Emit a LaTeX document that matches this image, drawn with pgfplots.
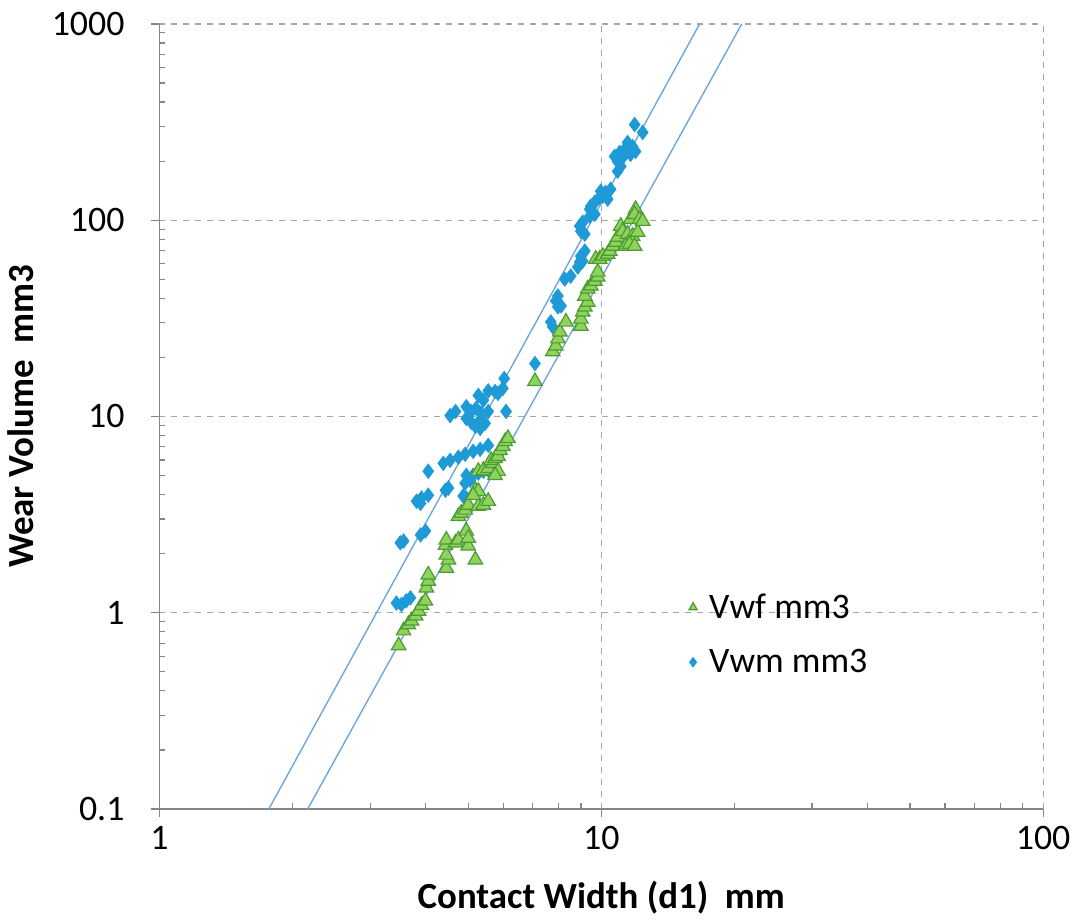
\documentclass[border=0pt]{standalone}
\usepackage{fontspec}
\setmainfont{Carlito}
\usepackage{pgfplots}
\pgfplotsset{compat=1.18}
\definecolor{vwmblue}{HTML}{1E9AD6}
\definecolor{vwffill}{HTML}{8ED45A}
\definecolor{vwfedge}{HTML}{4E9A34}
\definecolor{trend}{HTML}{6FA6DC}
\definecolor{axgray}{HTML}{868686}

\begin{document}
\begin{tikzpicture}
\begin{axis}[
  scale only axis, width=443.5pt, height=394pt,
  xmode=log, ymode=log,
  xmin=1, xmax=100, ymin=0.1, ymax=1000,
  xtick={1,10,100}, xticklabels={1,10,100},
  ytick={0.1,1,10,100,1000}, yticklabels={0.1,1,10,100,1000},
  minor xtick={2,3,4,5,6,7,8,9,20,30,40,50,60,70,80,90},
  minor ytick={0.2,0.3,0.4,0.5,0.6,0.7,0.8,0.9,2,3,4,5,6,7,8,9,20,30,40,50,60,70,80,90,200,300,400,500,600,700,800,900},
  axis x line*=bottom, axis y line*=left,
  axis line style={axgray, line width=0.8pt, -},
  tick align=inside, major tick length=-4pt, minor tick length=3pt,
  tick style={axgray, line width=0.6pt},
  xmajorgrids, ymajorgrids,
  major grid style={gray!70, dashed, line width=0.6pt},
  tick label style={font=\fontsize{18}{21}\selectfont, text=black},
  yticklabel style={xshift=-14pt},
  xticklabel style={yshift=-5pt},
  /pgf/number format/assume math mode=true,
  xlabel={\textbf{Contact Width (d1)\ \ mm}},
  ylabel={\textbf{Wear Volume\ \ mm3}},
  label style={font=\fontsize{18.5}{21}\selectfont},
  xlabel style={yshift=-9pt},
  ylabel style={yshift=2pt},
  legend style={at={(rel axis cs:0.592,0.285)}, anchor=north west, draw=none, fill=none,
    font=\fontsize{18}{21}\selectfont, row sep=10pt, column sep=4pt},
  legend image post style={mark size=2.4pt},
  legend cell align=left,
  reverse legend,
]
\coordinate (O) at (rel axis cs:0,0);
% trend lines
\addplot[trend, line width=0.7pt, forget plot] coordinates {(1.769,0.1) (16.7,1000)};
\addplot[trend, line width=0.7pt, forget plot] coordinates {(2.166,0.1) (20.8,1000)};
% Vwm
\addplot[only marks, mark=diamond*, mark size=3.6pt, color=vwmblue, mark options={fill=vwmblue, draw=vwmblue}] coordinates {
(3.44,1.12) (3.53,1.10) (3.62,1.15) (3.70,1.19)
(3.51,2.27) (3.57,2.32) (3.90,2.49) (4.00,2.61)
(3.82,3.70) (3.90,3.61) (3.92,3.84) (4.06,3.97)
(4.44,4.21) (4.51,4.32) (4.87,3.93) (4.95,3.84)
(4.06,5.26) (5.05,4.73) (4.92,4.57) (4.95,5.01)
(5.13,5.01) (5.27,5.14) (5.41,5.26) (5.55,5.32) (5.69,5.45)
(4.39,5.77) (4.55,5.98) (4.75,6.20) (4.92,6.42) (5.13,6.64) (5.32,6.80) (5.55,7.12)
(6.15,7.55)
(4.55,10.1) (4.68,10.6) (4.95,11.2) (5.08,10.6) (5.21,11.0) (5.35,10.4) (5.55,10.6) (6.09,10.6)
(4.95,9.77) (5.08,9.33) (5.27,9.33) (5.46,9.22) (5.19,8.90) (5.32,8.69)
(5.27,12.8) (5.41,12.1) (5.55,13.5) (5.75,13.4) (5.99,13.9) (5.84,13.1)
(6.03,15.6) (7.08,18.6)
(7.69,30.3) (7.77,28.6) (7.98,41.1) (7.89,38.8) (7.98,36.2) (8.11,36.6)
(8.27,50.1) (8.53,51.9) (8.85,57.7) (8.94,61.2) (8.99,65.6) (9.18,69.6) (9.08,61.9)
(8.94,93.3) (9.08,97.7) (8.99,87.9) (9.18,84.9)
(9.42,104.7) (9.67,107.2) (9.42,113.7) (9.47,117.8) (9.67,123.4)
(9.92,130.9) (9.97,140.4) (10.08,132.5) (10.23,138.6) (10.50,143.6) (10.34,128)
(10.89,177.5) (11.07,188.1) (10.72,211.5) (11.01,221.5) (11.30,229.3) (11.47,248.7) (11.77,237.5)
(10.89,199) (11.18,208.8) (11.65,216.5) (11.96,224)
(11.90,307) (12.41,280)
};
\addlegendentry{Vwm mm3}
% Vwf
\addplot[only marks, mark=triangle*, mark size=4.2pt, mark options={fill=vwffill, draw=vwfedge, line width=0.6pt}] coordinates {
(3.48,0.68) (3.57,0.81) (3.66,0.87) (3.72,0.91) (3.80,0.965) (3.86,1.02) (3.92,1.09) (4.00,1.15)
(4.02,1.34) (4.06,1.45) (4.06,1.56)
(4.46,1.69) (4.51,1.86) (4.46,1.97) (4.44,2.21) (4.46,2.35) (4.68,2.27) (4.75,2.35)
(5.00,2.19) (5.19,1.86) (4.95,2.61) (5.00,2.40)
(4.75,3.10) (4.82,3.22) (4.92,3.34) (5.00,3.54) (5.27,3.49) (5.41,3.54) (5.55,3.70)
(5.19,4.21) (5.27,4.16) (5.13,3.97)
(5.27,5.26) (5.41,5.32) (5.55,5.45) (5.69,5.77) (5.63,5.98) (5.75,6.12) (5.84,6.27)
(5.84,5.26) (5.75,5.01)
(5.90,6.72) (5.99,7.04) (6.06,7.46) (6.15,7.73)
(7.08,15.1)
(7.77,21.4) (7.89,22.9) (7.98,24.9) (8.06,27.0) (8.32,30.3)
(8.99,28.9) (8.99,31.4) (9.08,34.1) (9.18,36.2) (9.32,38.3) (9.18,41.1)
(9.32,44.7) (9.47,46.3) (9.67,49.0) (9.82,51.4) (9.82,54.5)
(9.72,63.4) (9.92,63.4) (10.08,65.6) (10.34,67.2) (10.45,69.6) (10.62,73.8) (10.78,77.3) (10.89,82)
(11.07,93.3) (11.18,87.9) (11.47,84.9) (11.77,83) (12.09,86.9) (11.36,73.8) (11.59,75.5) (11.90,73.8)
(11.65,101) (11.96,113.7) (11.90,107.2) (12.21,101) (12.41,98.8)
};
\addlegendentry{Vwf mm3}
\end{axis}
\path (O) ++(-80pt,-54.5pt) rectangle ++(538.5pt,460.5pt);
\end{tikzpicture}
\end{document}
